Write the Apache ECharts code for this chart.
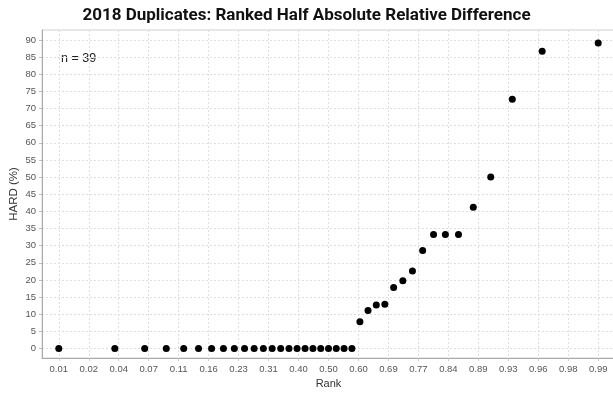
<!DOCTYPE html>
<html>
<head>
<meta charset="utf-8">
<script src="https://cdn.jsdelivr.net/npm/echarts@6/dist/echarts.min.js"></script>
<style>html,body{margin:0;padding:0;background:#fff;}#c{width:613px;height:393px;}</style>
</head>
<body>
<div id="c"></div>
<script>
// Rank (plotting position) of each of the 39 duplicates
var ranks = [0.0128,0.0385,0.0641,0.0897,0.1154,0.1410,0.1667,0.1923,0.2179,0.2436,
             0.2692,0.2949,0.3205,0.3462,0.3718,0.3974,0.4231,0.4487,0.4744,0.5000,
             0.5256,0.5513,0.5769,0.6026,0.6282,0.6538,0.6795,0.7051,0.7308,0.7564,
             0.7821,0.8077,0.8333,0.8590,0.8846,0.9103,0.9359,0.9615,0.9872];
// Half absolute relative difference (%)
var hard = [0,0,0,0,0,0,0,0,0,0,
            0,0,0,0,0,0,0,0,0,0,
            0,0,0,7.8,11.1,12.7,12.9,17.8,19.8,22.6,
            28.6,33.3,33.3,33.3,41.2,50,72.7,86.7,89.1];
// x tick labels (rank on normal-probability scale)
var xTickLabels = ['0.01','0.02','0.04','0.07','0.11','0.16','0.23','0.31','0.40','0.50',
                   '0.60','0.69','0.77','0.84','0.89','0.93','0.96','0.98','0.99'];
var yTicks = [0,5,10,15,20,25,30,35,40,45,50,55,60,65,70,75,80,85,90];
var title = '2018 Duplicates: Ranked Half Absolute Relative Difference';
var note = 'n = 39';

// inverse standard normal CDF (Acklam)
function probit(p){
  var a=[-39.69683028665376,220.9460984245205,-275.9285104469687,138.3577518672690,-30.66479806614716,2.506628277459239];
  var b=[-54.47609879822406,161.5858368580409,-155.6989798598866,66.80131188771972,-13.28068155288572];
  var c=[-0.007784894002430293,-0.3223964580411365,-2.400758277161838,-2.549732539343734,4.374664141464968,2.938163982698783];
  var d=[0.007784695709041462,0.3224671290700398,2.445134137142996,3.754408661907416];
  var pl=0.02425, q, r;
  if(p<pl){q=Math.sqrt(-2*Math.log(p));return (((((c[0]*q+c[1])*q+c[2])*q+c[3])*q+c[4])*q+c[5])/((((d[0]*q+d[1])*q+d[2])*q+d[3])*q+1);}
  if(p<=1-pl){q=p-0.5;r=q*q;return (((((a[0]*r+a[1])*r+a[2])*r+a[3])*r+a[4])*r+a[5])*q/(((((b[0]*r+b[1])*r+b[2])*r+b[3])*r+b[4])*r+1);}
  q=Math.sqrt(-2*Math.log(1-p));return -(((((c[0]*q+c[1])*q+c[2])*q+c[3])*q+c[4])*q+c[5])/((((d[0]*q+d[1])*q+d[2])*q+d[3])*q+1);
}
var half = (xTickLabels.length-1)/2;            // 9 ticks each side of the median
var zStep = probit(ranks[ranks.length-1])/half; // z distance between ticks
var xTickVals = xTickLabels.map(function(_,i){return i-half;});
var pts = ranks.map(function(r,i){return [probit(r)/zStep, hard[i]];});

var chart = echarts.init(document.getElementById('c'));
var axisFont = {fontFamily:'Liberation Sans, Arial, sans-serif', fontSize:9.5, color:'#555'};
chart.setOption({
  animation:false,
  backgroundColor:'#fff',
  title:{text:title,left:'center',top:2,
    textStyle:{fontFamily:'Roboto, Inter, sans-serif',fontWeight:'bold',fontSize:17,color:'#111'}},
  grid:{left:42,right:-2,top:30,bottom:35,show:true,borderColor:'#d0d0d0',borderWidth:1,backgroundColor:'transparent',
    outerBoundsMode:'none',containLabel:false},
  graphic:[{type:'text',left:61,top:52,style:{text:note,font:'12.5px Liberation Sans, Arial, sans-serif',fill:'#222'}}],
  xAxis:{type:'value',min:-9.56,max:9.56,
    name:'Rank',nameLocation:'middle',nameGap:20,nameMoveOverlap:false,
    nameTextStyle:{fontFamily:'Liberation Sans, Arial, sans-serif',fontSize:11,color:'#333'},
    axisLine:{show:true,onZero:false,lineStyle:{color:'#aaa'}},
    axisTick:{show:true,length:3,lineStyle:{color:'#ccc'},customValues:xTickVals},
    axisLabel:Object.assign({margin:6,customValues:xTickVals,
      formatter:function(v){var i=Math.round(v+half);return xTickLabels[i]||'';}},axisFont),
    splitLine:{show:true,lineStyle:{color:'#dedede',type:[2,2]}}
  },
  yAxis:{type:'value',min:-2.75,max:92.9,
    name:'HARD (%)',nameLocation:'middle',nameGap:22,nameMoveOverlap:false,
    nameTextStyle:{fontFamily:'Liberation Sans, Arial, sans-serif',fontSize:11.5,color:'#333'},
    axisLine:{show:true,onZero:false,lineStyle:{color:'#aaa'}},
    axisTick:{show:true,length:3,lineStyle:{color:'#bbb'},customValues:yTicks},
    axisLabel:Object.assign({margin:6,customValues:yTicks},axisFont),
    splitLine:{show:true,lineStyle:{color:'#dedede',type:[2,2]}}
  },
  series:[{type:'scatter',data:pts,symbol:'circle',symbolSize:7,itemStyle:{color:'#000',opacity:1}}]
});
</script>
</body>
</html>
